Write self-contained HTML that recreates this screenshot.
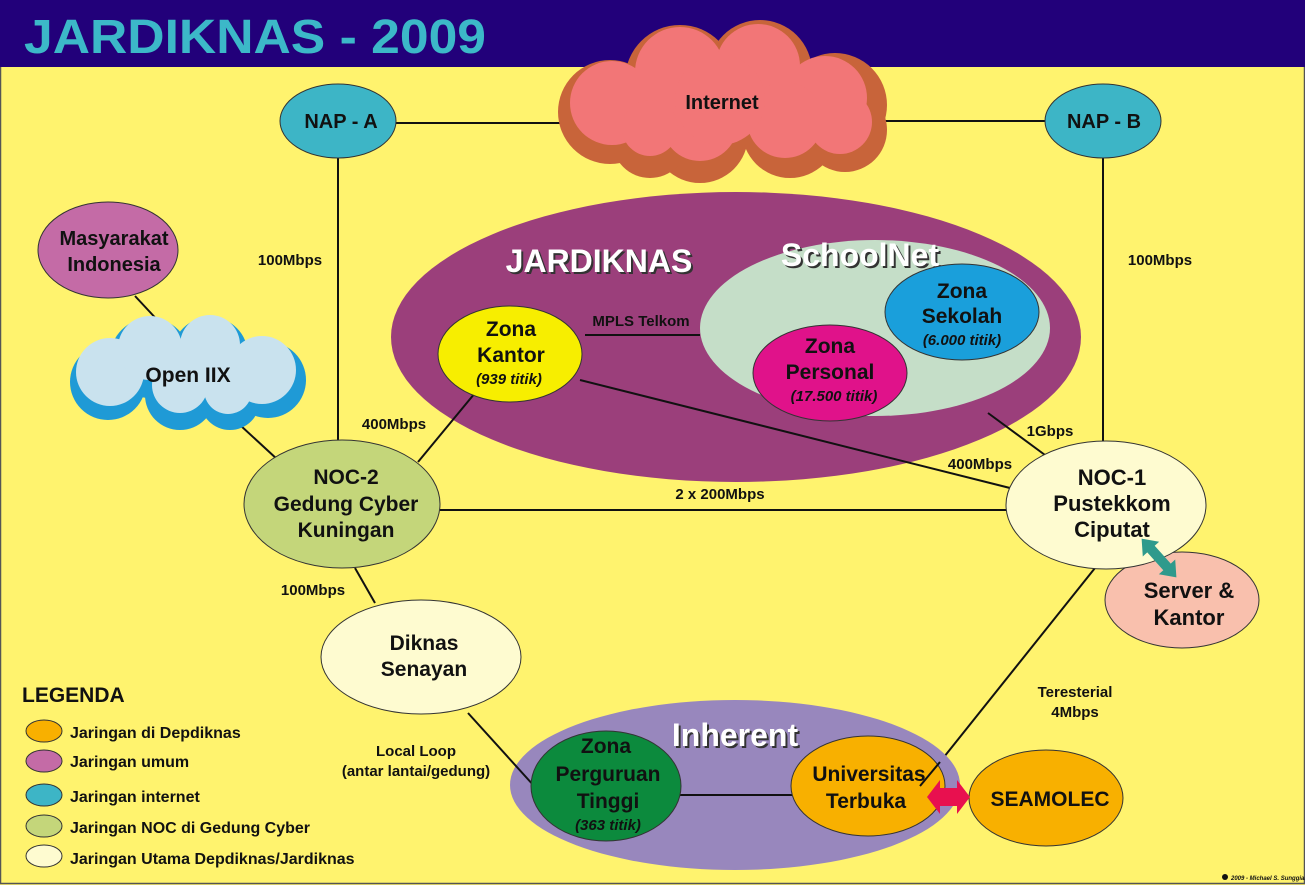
<!DOCTYPE html>
<html><head><meta charset="utf-8"><style>
html,body{margin:0;padding:0;width:1305px;height:885px;overflow:hidden;background:#fff36e}
svg{display:block}
text{font-family:"Liberation Sans",sans-serif;font-weight:bold;fill:#111}
</style></head><body>
<svg width="1305" height="885" viewBox="0 0 1305 885">
<rect x="0" y="0" width="1305" height="885" fill="#fff36e"/>
<rect x="0.5" y="0.5" width="1304" height="883" fill="none" stroke="#555" stroke-width="1.5"/>
<rect x="0" y="0" width="1305" height="67" fill="#22007a"/>
<text x="24" y="53" font-size="48" textLength="462" lengthAdjust="spacingAndGlyphs" style="fill:#3cb8c8;font-weight:bold">JARDIKNAS - 2009</text>

<g stroke="#111" stroke-width="2" fill="none">
<line x1="395" y1="123" x2="560" y2="123"/>
<line x1="880" y1="121" x2="1046" y2="121"/>
<line x1="338" y1="158" x2="338" y2="445"/>
<line x1="1103" y1="158" x2="1103" y2="455"/>
<line x1="440" y1="510" x2="1008" y2="510"/>
<line x1="240" y1="425" x2="278" y2="460"/>
<line x1="135" y1="296" x2="162" y2="325"/>
<line x1="355" y1="568" x2="375" y2="603"/>
<line x1="1095" y1="568" x2="940" y2="762"/>
</g>

<!-- Internet cloud -->
<g fill="#c8643a">
<circle cx="610" cy="112" r="52"/><circle cx="680" cy="80" r="55"/><circle cx="760" cy="72" r="52"/><circle cx="835" cy="105" r="52"/><circle cx="700" cy="135" r="48"/><circle cx="790" cy="130" r="48"/><circle cx="650" cy="140" r="38"/><circle cx="845" cy="130" r="42"/>
</g>
<g fill="#f27677">
<circle cx="612" cy="103" r="42"/><circle cx="680" cy="72" r="45"/><circle cx="758" cy="66" r="42"/><circle cx="825" cy="98" r="42"/><circle cx="700" cy="123" r="38"/><circle cx="785" cy="120" r="38"/><circle cx="650" cy="128" r="28"/><circle cx="840" cy="122" r="32"/><circle cx="720" cy="100" r="45"/>
</g>
<text x="722" y="109" font-size="20" text-anchor="middle">Internet</text>

<ellipse cx="338" cy="121" rx="58" ry="37" fill="#3db5c6" stroke="#333"/>
<text x="341" y="128" font-size="20" text-anchor="middle">NAP - A</text>
<ellipse cx="1103" cy="121" rx="58" ry="37" fill="#3db5c6" stroke="#333"/>
<text x="1104" y="128" font-size="20" text-anchor="middle">NAP - B</text>

<!-- Jardiknas -->
<ellipse cx="736" cy="337" rx="345" ry="145" fill="#9b3f7b"/>
<ellipse cx="875" cy="328" rx="175" ry="88" fill="#c5dec8"/>
<g stroke="#111" stroke-width="2">
<line x1="585" y1="335" x2="700" y2="335"/>
<line x1="580" y1="380" x2="1010" y2="488"/>
<line x1="475" y1="393" x2="418" y2="462"/>
<line x1="988" y1="413" x2="1045" y2="455"/>
</g>
<text x="601" y="274" font-size="32" text-anchor="middle" style="fill:#333">JARDIKNAS</text>
<text x="599" y="272" font-size="32" text-anchor="middle" style="fill:#fff">JARDIKNAS</text>
<text x="862" y="268" font-size="32" text-anchor="middle" style="fill:#333">SchoolNet</text>
<text x="860" y="266" font-size="32" text-anchor="middle" style="fill:#fff">SchoolNet</text>
<text x="641" y="326" font-size="15" text-anchor="middle">MPLS Telkom</text>
<ellipse cx="962" cy="312" rx="77" ry="48" fill="#1a9fdb" stroke="#333"/>
<text x="962" y="298" font-size="21" text-anchor="middle">Zona</text>
<text x="962" y="323" font-size="21" text-anchor="middle">Sekolah</text>
<text x="962" y="345" font-size="15" text-anchor="middle" font-style="italic">(6.000 titik)</text>
<ellipse cx="830" cy="373" rx="77" ry="48" fill="#e0128a" stroke="#333"/>
<text x="830" y="353" font-size="21" text-anchor="middle">Zona</text>
<text x="830" y="379" font-size="21" text-anchor="middle">Personal</text>
<text x="834" y="401" font-size="15" text-anchor="middle" font-style="italic">(17.500 titik)</text>
<ellipse cx="510" cy="354" rx="72" ry="48" fill="#f7ee00" stroke="#333"/>
<text x="511" y="336" font-size="21" text-anchor="middle">Zona</text>
<text x="511" y="362" font-size="21" text-anchor="middle">Kantor</text>
<text x="509" y="384" font-size="15" text-anchor="middle" font-style="italic">(939 titik)</text>

<!-- Masyarakat -->
<ellipse cx="108" cy="250" rx="70" ry="48" fill="#c46ba6" stroke="#333"/>
<text x="114" y="245" font-size="20" text-anchor="middle">Masyarakat</text>
<text x="114" y="271" font-size="20" text-anchor="middle">Indonesia</text>

<!-- Open IIX cloud -->
<g fill="#1f9ad6">
<circle cx="108" cy="382" r="38"/><circle cx="150" cy="358" r="40"/><circle cx="210" cy="355" r="38"/><circle cx="268" cy="380" r="38"/><circle cx="180" cy="395" r="35"/><circle cx="230" cy="400" r="30"/>
</g>
<g fill="#c9e2ee">
<circle cx="110" cy="372" r="34"/><circle cx="150" cy="348" r="32"/><circle cx="210" cy="345" r="30"/><circle cx="262" cy="370" r="34"/><circle cx="180" cy="385" r="28"/><circle cx="228" cy="390" r="24"/><circle cx="190" cy="370" r="30"/>
</g>
<text x="188" y="382" font-size="21" text-anchor="middle">Open IIX</text>

<text x="290" y="265" font-size="15" text-anchor="middle">100Mbps</text>
<text x="1160" y="265" font-size="15" text-anchor="middle">100Mbps</text>
<text x="394" y="429" font-size="15" text-anchor="middle">400Mbps</text>
<text x="1050" y="436" font-size="15" text-anchor="middle">1Gbps</text>
<text x="980" y="469" font-size="15" text-anchor="middle">400Mbps</text>
<text x="720" y="499" font-size="15" text-anchor="middle">2 x 200Mbps</text>
<text x="313" y="595" font-size="15" text-anchor="middle">100Mbps</text>
<text x="416" y="756" font-size="15" text-anchor="middle">Local Loop</text>
<text x="416" y="776" font-size="15" text-anchor="middle">(antar lantai/gedung)</text>
<text x="1075" y="697" font-size="15" text-anchor="middle">Teresterial</text>
<text x="1075" y="717" font-size="15" text-anchor="middle">4Mbps</text>

<ellipse cx="342" cy="504" rx="98" ry="64" fill="#c4d67a" stroke="#333"/>
<text x="346" y="484" font-size="21" text-anchor="middle">NOC-2</text>
<text x="346" y="511" font-size="21" text-anchor="middle">Gedung Cyber</text>
<text x="346" y="537" font-size="21" text-anchor="middle">Kuningan</text>

<ellipse cx="1182" cy="600" rx="77" ry="48" fill="#f9c0ad" stroke="#333"/>
<text x="1189" y="598" font-size="22" text-anchor="middle">Server &amp;</text>
<text x="1189" y="625" font-size="22" text-anchor="middle">Kantor</text>
<ellipse cx="1106" cy="505" rx="100" ry="64" fill="#fefbd0" stroke="#333"/>
<text x="1112" y="485" font-size="22" text-anchor="middle">NOC-1</text>
<text x="1112" y="511" font-size="22" text-anchor="middle">Pustekkom</text>
<text x="1112" y="537" font-size="22" text-anchor="middle">Ciputat</text>
<g transform="translate(1159,558) rotate(48)">
<polygon points="-26,0 -12,-11 -12,-5 12,-5 12,-11 26,0 12,11 12,5 -12,5 -12,11" fill="#2f9a8c"/>
</g>

<ellipse cx="421" cy="657" rx="100" ry="57" fill="#fefbd0" stroke="#333"/>
<text x="424" y="650" font-size="21" text-anchor="middle">Diknas</text>
<text x="424" y="676" font-size="21" text-anchor="middle">Senayan</text>

<!-- Inherent -->
<ellipse cx="735" cy="785" rx="225" ry="85" fill="#9887bd"/>
<line x1="680" y1="795" x2="792" y2="795" stroke="#111" stroke-width="2"/>
<line x1="468" y1="713" x2="535" y2="787" stroke="#111" stroke-width="2"/>
<text x="737" y="748" font-size="32" text-anchor="middle" style="fill:#333">Inherent</text>
<text x="735" y="746" font-size="32" text-anchor="middle" style="fill:#fff">Inherent</text>
<ellipse cx="606" cy="786" rx="75" ry="55" fill="#0c8a3d" stroke="#333"/>
<text x="606" y="753" font-size="21" text-anchor="middle">Zona</text>
<text x="608" y="781" font-size="21" text-anchor="middle">Perguruan</text>
<text x="608" y="808" font-size="21" text-anchor="middle">Tinggi</text>
<text x="608" y="830" font-size="15" text-anchor="middle" font-style="italic">(363 titik)</text>
<ellipse cx="868" cy="786" rx="77" ry="50" fill="#f8b000" stroke="#333"/>
<line x1="940" y1="762" x2="920" y2="786" stroke="#111" stroke-width="2"/>
<text x="869" y="781" font-size="21" text-anchor="middle">Universitas</text>
<text x="866" y="808" font-size="21" text-anchor="middle">Terbuka</text>
<ellipse cx="1046" cy="798" rx="77" ry="48" fill="#f8b000" stroke="#333"/>
<text x="1050" y="806" font-size="21" text-anchor="middle">SEAMOLEC</text>
<polygon points="927,797 940,780 940,788 957,788 957,780 970,797 957,814 957,806 940,806 940,814" fill="#e8104f"/>

<!-- Legend -->
<text x="22" y="702" font-size="21">LEGENDA</text>
<g stroke="#333">
<ellipse cx="44" cy="731" rx="18" ry="11" fill="#f8b000"/>
<ellipse cx="44" cy="761" rx="18" ry="11" fill="#c46ba6"/>
<ellipse cx="44" cy="795" rx="18" ry="11" fill="#3db5c6"/>
<ellipse cx="44" cy="826" rx="18" ry="11" fill="#c4d67a"/>
<ellipse cx="44" cy="856" rx="18" ry="11" fill="#fefbd0"/>
</g>
<text x="70" y="738" font-size="16">Jaringan di Depdiknas</text>
<text x="70" y="767" font-size="16">Jaringan umum</text>
<text x="70" y="802" font-size="16">Jaringan internet</text>
<text x="70" y="833" font-size="16">Jaringan NOC di Gedung Cyber</text>
<text x="70" y="864" font-size="16">Jaringan Utama Depdiknas/Jardiknas</text>
<circle cx="1225" cy="877" r="3" fill="#111"/>
<text x="1231" y="880" font-size="6" font-weight="normal" font-style="italic">2009 - Michael S. Sunggiardi</text>
</svg>
</body></html>
